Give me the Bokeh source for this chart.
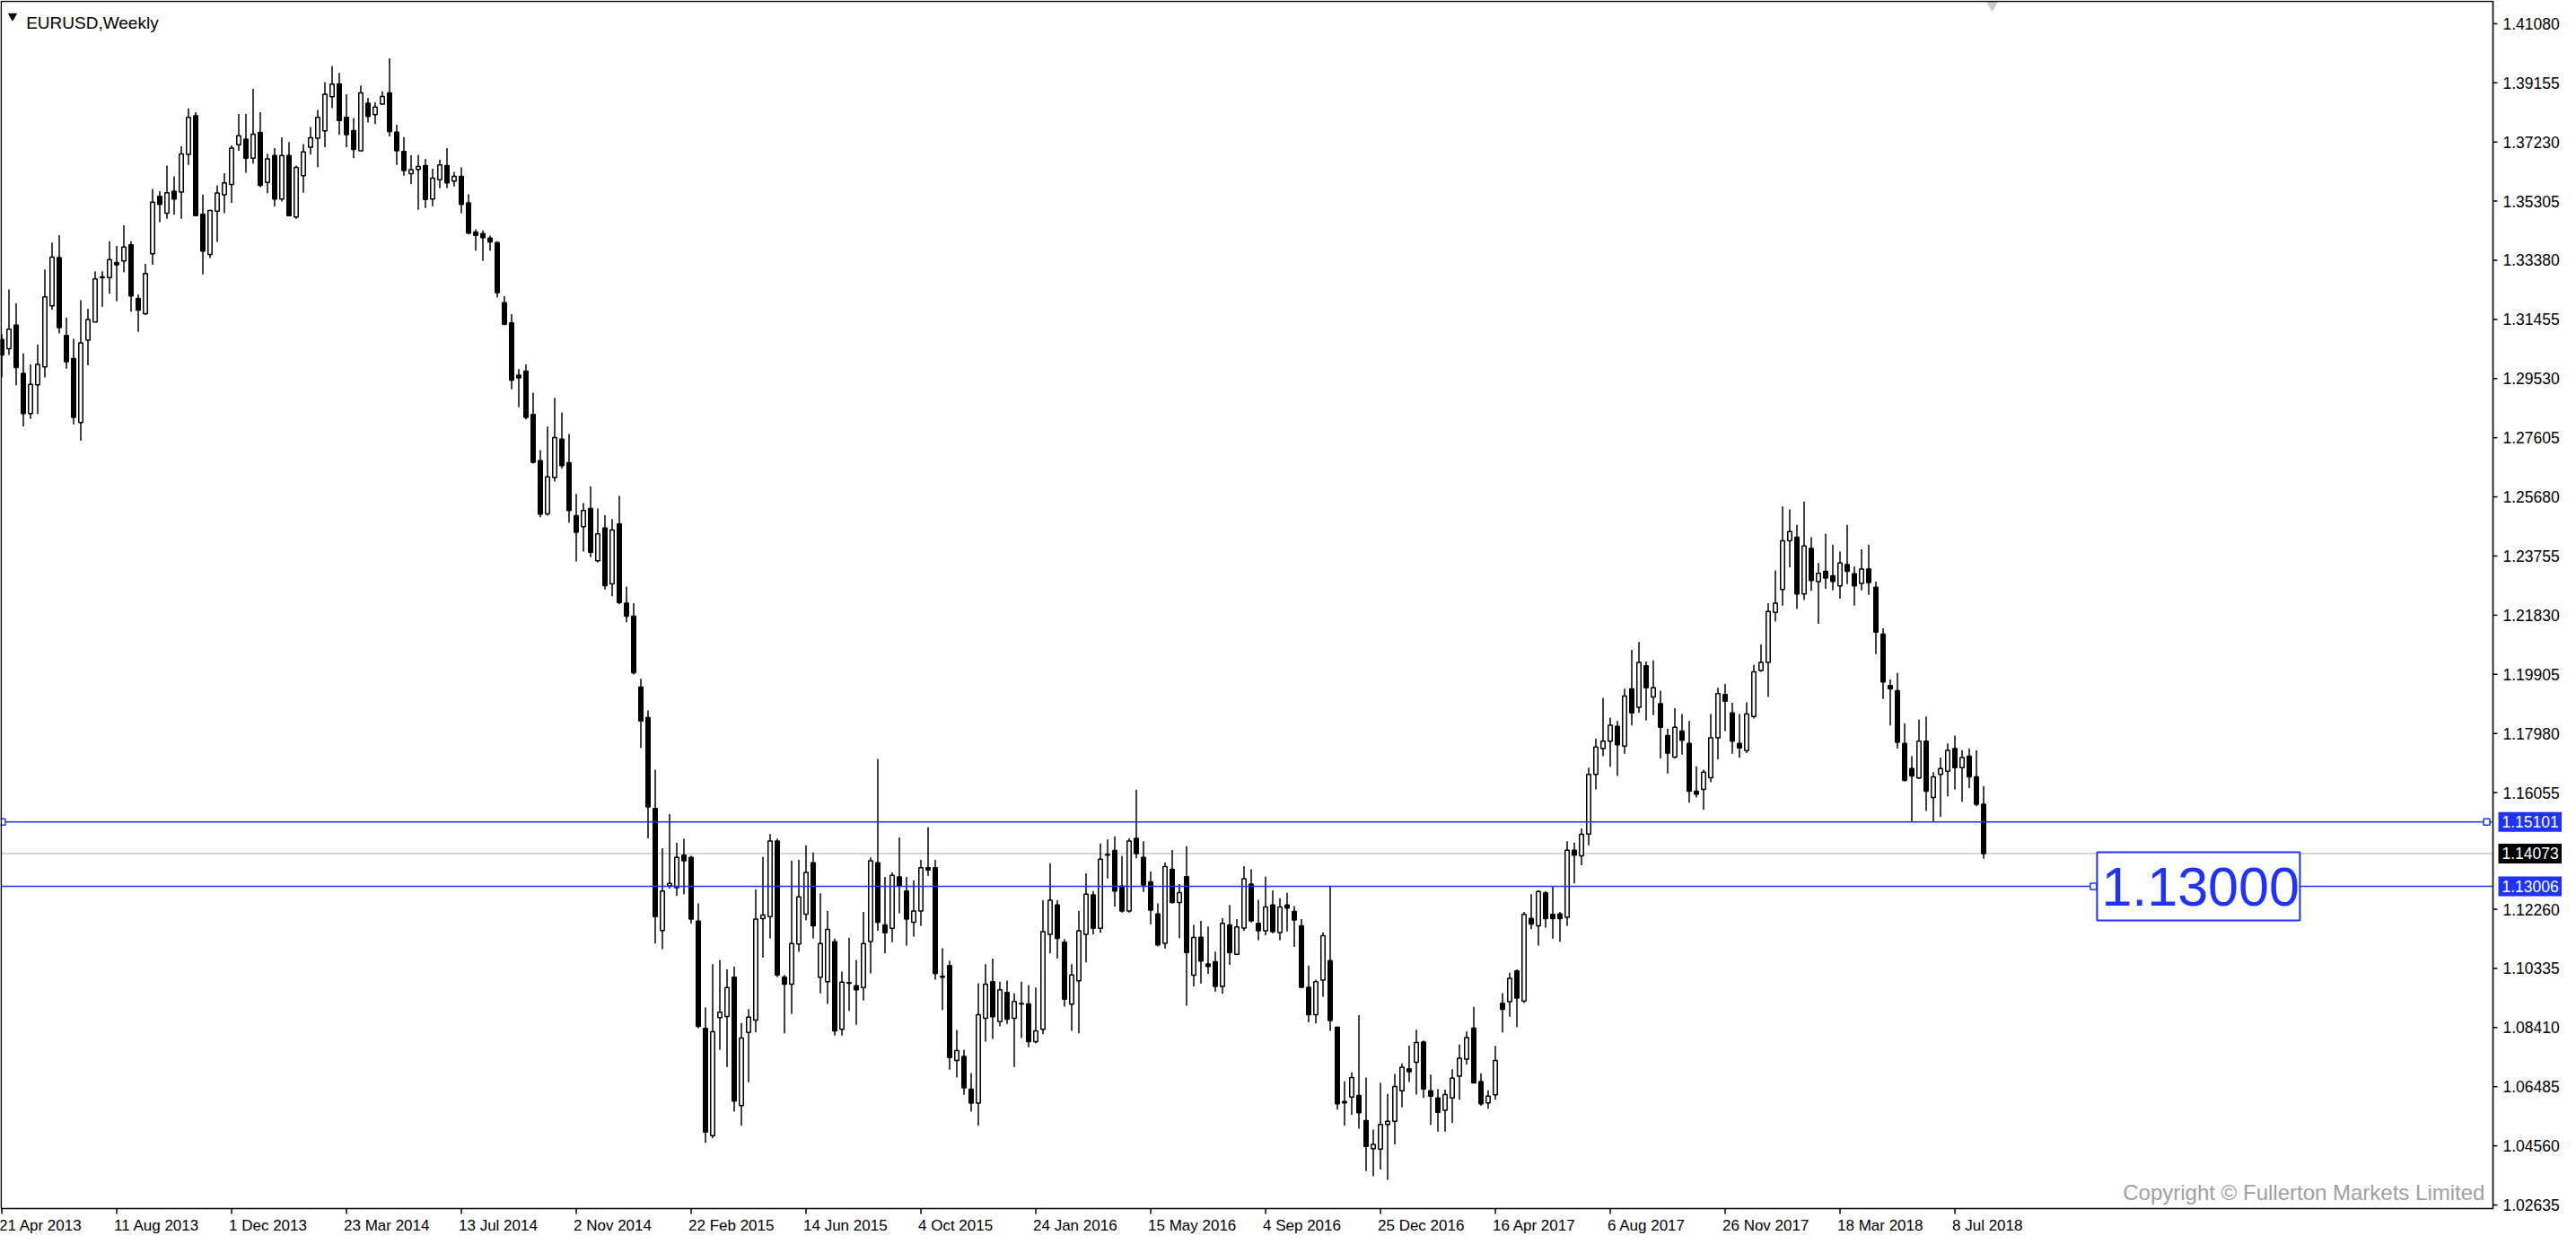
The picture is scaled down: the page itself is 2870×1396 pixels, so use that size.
import numpy as np
from bokeh.plotting import figure
from bokeh.models import ColumnDataSource, Range1d
from bokeh.core.properties import value
from bokeh.embed import file_html
from bokeh.resources import INLINE

# EURUSD weekly candles, first bar = week of 21 Apr 2013
opens = [
    1.3080, 1.3050, 1.3127, 1.2970, 1.2839, 1.2933, 1.2991, 1.3190, 1.3347, 1.3093,
    1.3018, 1.2810, 1.3078, 1.3137, 1.3282, 1.3282, 1.3331, 1.3336, 1.3388, 1.3214,
    1.3164, 1.3359, 1.3546, 1.3491, 1.3563, 1.3560, 1.3683, 1.3808, 1.3488, 1.3357,
    1.3498, 1.3551, 1.3585, 1.3714, 1.3732, 1.3670, 1.3754, 1.3591, 1.3679, 1.3537,
    1.3679, 1.3479, 1.3613, 1.3706, 1.3735, 1.3759, 1.3870, 1.3912, 1.3803, 1.3760,
    1.3694, 1.3849, 1.3812, 1.3846, 1.3883, 1.3755, 1.3692, 1.3620, 1.3634, 1.3646,
    1.3537, 1.3600, 1.3646, 1.3596, 1.3611, 1.3525, 1.3430, 1.3425, 1.3410, 1.3396,
    1.3200, 1.3134, 1.2964, 1.2977, 1.2836, 1.2686, 1.2513, 1.2631, 1.2756, 1.2679,
    1.2507, 1.2471, 1.2530, 1.2360, 1.2467, 1.2285, 1.2480, 1.2222, 1.2180, 1.1949,
    1.1850, 1.1554, 1.1157, 1.1302, 1.1296, 1.1402, 1.1395, 1.1187, 1.0838, 1.0489,
    1.0873, 1.0877, 1.1005, 1.0587, 1.0825, 1.0865, 1.1195, 1.1202, 1.1448, 1.1005,
    1.0982, 1.1113, 1.1210, 1.1377, 1.1005, 1.0990, 1.1120, 1.0835, 1.0985, 1.0977,
    1.0971, 1.1121, 1.1377, 1.1175, 1.1164, 1.1331, 1.1285, 1.1184, 1.1220, 1.1361,
    1.1361, 1.1008, 1.1043, 1.0734, 1.0747, 1.0640, 1.0595, 1.0871, 1.0990, 1.0860,
    1.0955, 1.0871, 1.0919, 1.0918, 1.0795, 1.0835, 1.1144, 1.1240, 1.1119, 1.0917,
    1.0993, 1.1144, 1.1273, 1.1164, 1.1402, 1.1417, 1.1301, 1.1220, 1.1457, 1.1395,
    1.1315, 1.1211, 1.1115, 1.1356, 1.1248, 1.1332, 1.1011, 1.1135, 1.1048, 1.1055,
    1.0975, 1.1175, 1.1079, 1.1165, 1.1308, 1.1180, 1.1156, 1.1240, 1.1150, 1.1240,
    1.1219, 1.1172, 1.0972, 1.0883, 1.0995, 1.1059, 1.0842, 1.0600, 1.0615, 1.0620,
    1.0538, 1.0447, 1.0445, 1.0526, 1.0536, 1.0635, 1.0707, 1.0728, 1.0794, 1.0635,
    1.0612, 1.0572, 1.0612, 1.0683, 1.0738, 1.0839, 1.0665, 1.0596, 1.0622, 1.0920,
    1.0925, 1.1025, 1.0927, 1.1196, 1.1172, 1.1279, 1.1209, 1.1211, 1.1200, 1.1418,
    1.1400, 1.1471, 1.1665, 1.1749, 1.1773, 1.1821, 1.1757, 1.1943, 1.1883, 1.2018,
    1.1917, 1.1895, 1.1791, 1.1721, 1.1806, 1.1766, 1.1610, 1.1616, 1.1654, 1.1784,
    1.1925, 1.1865, 1.1766, 1.1742, 1.1853, 1.2003, 1.2029, 1.2192, 1.2267, 1.2425,
    1.2437, 1.2252, 1.2400, 1.2292, 1.2326, 1.2311, 1.2278, 1.2348, 1.2318, 1.2286,
    1.2333, 1.2274, 1.2121, 1.1954, 1.1937, 1.1766, 1.1684, 1.1653, 1.1773, 1.1590,
    1.1665, 1.1675, 1.1749, 1.1687, 1.1724, 1.1657, 1.1568,
]
highs = [
    1.3098, 1.3243, 1.3198, 1.3035, 1.2999, 1.3064, 1.3308, 1.3396, 1.3420, 1.3151,
    1.3082, 1.3208, 1.3180, 1.3302, 1.3302, 1.3400, 1.3385, 1.3452, 1.3400, 1.3227,
    1.3326, 1.3570, 1.3563, 1.3646, 1.3611, 1.3709, 1.3832, 1.3820, 1.3552, 1.3502,
    1.3582, 1.3621, 1.3712, 1.3814, 1.3814, 1.3896, 1.3820, 1.3684, 1.3703, 1.3738,
    1.3723, 1.3646, 1.3716, 1.3772, 1.3827, 1.3917, 1.3970, 1.3948, 1.3878, 1.3801,
    1.3907, 1.3867, 1.3852, 1.3888, 1.3995, 1.3779, 1.3739, 1.3680, 1.3681, 1.3668,
    1.3636, 1.3665, 1.3703, 1.3626, 1.3640, 1.3553, 1.3439, 1.3435, 1.3418, 1.3400,
    1.3221, 1.3163, 1.2984, 1.2999, 1.2907, 1.2720, 1.2797, 1.2890, 1.2843, 1.2773,
    1.2578, 1.2548, 1.2602, 1.2530, 1.2508, 1.2496, 1.2571, 1.2276, 1.2222, 1.1976,
    1.1873, 1.1680, 1.1425, 1.1536, 1.1442, 1.1455, 1.1400, 1.1245, 1.0906, 1.1047,
    1.1061, 1.1030, 1.1040, 1.0856, 1.0901, 1.1290, 1.1396, 1.1471, 1.1455, 1.1012,
    1.1384, 1.1387, 1.1434, 1.1411, 1.1278, 1.1220, 1.1130, 1.1023, 1.1133, 1.1061,
    1.1217, 1.1395, 1.1715, 1.1331, 1.1346, 1.1460, 1.1331, 1.1320, 1.1387, 1.1493,
    1.1387, 1.1099, 1.1058, 1.0833, 1.0769, 1.0693, 1.0985, 1.1047, 1.1065, 1.0990,
    1.0994, 1.0952, 1.0990, 1.0979, 1.0971, 1.1255, 1.1376, 1.1255, 1.1129, 1.1047,
    1.1220, 1.1343, 1.1285, 1.1440, 1.1453, 1.1463, 1.1399, 1.1457, 1.1615, 1.1447,
    1.1349, 1.1245, 1.1378, 1.1419, 1.1308, 1.1431, 1.1175, 1.1188, 1.1170, 1.1088,
    1.1197, 1.1240, 1.1194, 1.1366, 1.1356, 1.1257, 1.1332, 1.1287, 1.1262, 1.1279,
    1.1236, 1.1194, 1.1043, 1.0997, 1.1151, 1.1303, 1.0844, 1.0666, 1.0695, 1.0881,
    1.0678, 1.0509, 1.0661, 1.0625, 1.0690, 1.0724, 1.0782, 1.0834, 1.0799, 1.0688,
    1.0641, 1.0639, 1.0705, 1.0786, 1.0828, 1.0908, 1.0692, 1.0637, 1.0781, 1.0953,
    1.1019, 1.1030, 1.1217, 1.1275, 1.1288, 1.1285, 1.1299, 1.1217, 1.1447, 1.1443,
    1.1489, 1.1687, 1.1781, 1.1914, 1.1850, 1.1839, 1.1944, 1.2070, 1.2096, 1.2032,
    1.2036, 1.1937, 1.1813, 1.1880, 1.1861, 1.1839, 1.1691, 1.1680, 1.1861, 1.1947,
    1.1959, 1.1898, 1.1861, 1.1899, 1.2021, 1.2088, 1.2222, 1.2329, 1.2537, 1.2527,
    1.2477, 1.2553, 1.2437, 1.2353, 1.2448, 1.2412, 1.2390, 1.2477, 1.2341, 1.2397,
    1.2412, 1.2292, 1.2140, 1.1974, 1.1995, 1.1831, 1.1724, 1.1843, 1.1853, 1.1672,
    1.1720, 1.1766, 1.1791, 1.1744, 1.1749, 1.1743, 1.1627,
]
lows = [
    1.2957, 1.3030, 1.2931, 1.2797, 1.2822, 1.2838, 1.2957, 1.3177, 1.3100, 1.2985,
    1.2804, 1.2751, 1.2996, 1.3137, 1.3187, 1.3229, 1.3205, 1.3299, 1.3171, 1.3105,
    1.3160, 1.3323, 1.3462, 1.3473, 1.3486, 1.3473, 1.3648, 1.3481, 1.3292, 1.3345,
    1.3398, 1.3491, 1.3525, 1.3694, 1.3623, 1.3653, 1.3576, 1.3556, 1.3513, 1.3529,
    1.3481, 1.3473, 1.3558, 1.3682, 1.3641, 1.3706, 1.3833, 1.3746, 1.3706, 1.3670,
    1.3694, 1.3786, 1.3781, 1.3844, 1.3741, 1.3648, 1.3613, 1.3586, 1.3502, 1.3508,
    1.3514, 1.3573, 1.3573, 1.3578, 1.3491, 1.3423, 1.3369, 1.3336, 1.3369, 1.3217,
    1.3127, 1.2919, 1.2860, 1.2820, 1.2676, 1.2502, 1.2507, 1.2618, 1.2660, 1.2484,
    1.2358, 1.2390, 1.2372, 1.2355, 1.2267, 1.2245, 1.2219, 1.2160, 1.1990, 1.1751,
    1.1457, 1.1114, 1.1096, 1.1293, 1.1270, 1.1275, 1.1179, 1.0838, 1.0466, 1.0481,
    1.0769, 1.0713, 1.0567, 1.0522, 1.0663, 1.0826, 1.1068, 1.1131, 1.1005, 1.0822,
    1.0886, 1.1087, 1.1190, 1.1131, 1.0952, 1.0918, 1.0815, 1.0815, 1.0895, 1.0850,
    1.0929, 1.1017, 1.1156, 1.1083, 1.1119, 1.1213, 1.1108, 1.1137, 1.1172, 1.1335,
    1.0997, 1.0898, 1.0704, 1.0678, 1.0622, 1.0567, 1.0522, 1.0795, 1.0804, 1.0845,
    1.0853, 1.0713, 1.0807, 1.0777, 1.0789, 1.0819, 1.1083, 1.1065, 1.0909, 1.0830,
    1.0822, 1.1053, 1.1144, 1.1149, 1.1326, 1.1235, 1.1215, 1.1215, 1.1392, 1.1282,
    1.1177, 1.1105, 1.1098, 1.1245, 1.1132, 1.0912, 1.0975, 1.0984, 1.1016, 1.0958,
    1.0951, 1.1045, 1.1076, 1.1156, 1.1183, 1.1125, 1.1141, 1.1148, 1.1125, 1.1154,
    1.1103, 1.0970, 1.0858, 1.0854, 1.0941, 1.0830, 1.0574, 1.0522, 1.0557, 1.0512,
    1.0374, 1.0357, 1.0379, 1.0345, 1.0461, 1.0581, 1.0664, 1.0623, 1.0612, 1.0524,
    1.0502, 1.0502, 1.0530, 1.0606, 1.0721, 1.0659, 1.0586, 1.0577, 1.0606, 1.0825,
    1.0876, 1.0842, 1.0921, 1.1161, 1.1108, 1.1166, 1.1130, 1.1120, 1.1172, 1.1310,
    1.1369, 1.1434, 1.1616, 1.1724, 1.1690, 1.1660, 1.1732, 1.1824, 1.1865, 1.1840,
    1.1858, 1.1717, 1.1668, 1.1717, 1.1729, 1.1573, 1.1590, 1.1550, 1.1639, 1.1714,
    1.1806, 1.1732, 1.1719, 1.1734, 1.1847, 1.1999, 1.1917, 1.2162, 1.2214, 1.2338,
    1.2203, 1.2232, 1.2262, 1.2155, 1.2269, 1.2264, 1.2237, 1.2284, 1.2214, 1.2264,
    1.2249, 1.2056, 1.1910, 1.1824, 1.1749, 1.1642, 1.1512, 1.1650, 1.1546, 1.1512,
    1.1527, 1.1593, 1.1616, 1.1576, 1.1620, 1.1561, 1.1390,
]
closes = [
    1.3030, 1.3114, 1.2989, 1.2839, 1.2934, 1.2999, 1.3219, 1.3348, 1.3119, 1.3008,
    1.2827, 1.3069, 1.3145, 1.3277, 1.3284, 1.3340, 1.3323, 1.3381, 1.3222, 1.3176,
    1.3295, 1.3527, 1.3520, 1.3558, 1.3537, 1.3684, 1.3803, 1.3483, 1.3368, 1.3500,
    1.3557, 1.3590, 1.3703, 1.3743, 1.3670, 1.3748, 1.3582, 1.3668, 1.3537, 1.3679,
    1.3483, 1.3640, 1.3691, 1.3737, 1.3803, 1.3878, 1.3911, 1.3793, 1.3747, 1.3699,
    1.3883, 1.3806, 1.3837, 1.3871, 1.3757, 1.3694, 1.3630, 1.3633, 1.3643, 1.3536,
    1.3605, 1.3648, 1.3590, 1.3611, 1.3520, 1.3426, 1.3419, 1.3412, 1.3398, 1.3233,
    1.3130, 1.2948, 1.2955, 1.2827, 1.2681, 1.2512, 1.2633, 1.2761, 1.2670, 1.2524,
    1.2453, 1.2524, 1.2388, 1.2448, 1.2279, 1.2460, 1.2224, 1.2180, 1.1996, 1.1839,
    1.1559, 1.1202, 1.1285, 1.1310, 1.1395, 1.1384, 1.1194, 1.0845, 1.0501, 1.0827,
    1.0891, 1.0971, 1.0602, 1.0807, 1.0875, 1.1194, 1.1207, 1.1448, 1.1012, 1.0982,
    1.1114, 1.1266, 1.1346, 1.1172, 1.1114, 1.1160, 1.0830, 1.0989, 1.0987, 1.0964,
    1.1114, 1.1384, 1.1184, 1.1149, 1.1336, 1.1301, 1.1194, 1.1220, 1.1361, 1.1354,
    1.1017, 1.1005, 1.0743, 1.0766, 1.0645, 1.0595, 1.0883, 1.0982, 1.0876, 1.0964,
    1.0868, 1.0926, 1.0918, 1.0795, 1.0830, 1.1153, 1.1255, 1.1131, 1.0933, 1.1012,
    1.1156, 1.1275, 1.1164, 1.1389, 1.1404, 1.1285, 1.1220, 1.1448, 1.1407, 1.1305,
    1.1223, 1.1110, 1.1365, 1.1248, 1.1280, 1.1085, 1.1134, 1.1057, 1.1040, 1.0975,
    1.1180, 1.1085, 1.1168, 1.1325, 1.1188, 1.1156, 1.1233, 1.1153, 1.1233, 1.1230,
    1.1191, 1.0972, 1.0883, 1.0990, 1.1140, 1.0864, 1.0593, 1.0596, 1.0678, 1.0564,
    1.0454, 1.0461, 1.0526, 1.0536, 1.0649, 1.0712, 1.0697, 1.0792, 1.0641, 1.0618,
    1.0565, 1.0623, 1.0676, 1.0741, 1.0808, 1.0661, 1.0593, 1.0618, 1.0734, 1.0900,
    1.1001, 1.0937, 1.1209, 1.1178, 1.1284, 1.1195, 1.1195, 1.1195, 1.1418, 1.1402,
    1.1470, 1.1665, 1.1754, 1.1773, 1.1825, 1.1761, 1.1920, 1.1865, 1.2029, 1.1947,
    1.1947, 1.1818, 1.1734, 1.1818, 1.1776, 1.1610, 1.1601, 1.1672, 1.1784, 1.1928,
    1.1903, 1.1773, 1.1751, 1.1861, 1.1999, 1.2029, 1.2195, 1.2222, 1.2425, 1.2455,
    1.2252, 1.2408, 1.2296, 1.2319, 1.2304, 1.2293, 1.2353, 1.2326, 1.2278, 1.2333,
    1.2289, 1.2128, 1.1966, 1.1943, 1.1769, 1.1645, 1.1660, 1.1773, 1.1610, 1.1657,
    1.1684, 1.1743, 1.1687, 1.1720, 1.1657, 1.1568, 1.1407,
]

date_tick_bars = [0, 16, 32, 48, 64, 80, 96, 112, 128, 144, 160, 176, 192, 208, 224, 240, 256, 272]
date_tick_labels = ["21 Apr 2013", "11 Aug 2013", "1 Dec 2013", "23 Mar 2014", "13 Jul 2014",
                    "2 Nov 2014", "22 Feb 2015", "14 Jun 2015", "4 Oct 2015", "24 Jan 2016",
                    "15 May 2016", "4 Sep 2016", "25 Dec 2016", "16 Apr 2017", "6 Aug 2017",
                    "26 Nov 2017", "18 Mar 2018", "8 Jul 2018"]
price_ticks = [1.41080, 1.39155, 1.37230, 1.35305, 1.33380, 1.31455, 1.29530, 1.27605,
               1.25680, 1.23755, 1.21830, 1.19905, 1.17980, 1.16055, 1.12260, 1.10335,
               1.08410, 1.06485, 1.04560, 1.02635]

level_prices = [1.15101, 1.13006]
bid_price = 1.14073
target_text = "1.13000"
target_bar = 291.8          # where the text box was dropped on the 1.13006 line

BLUE = "#1f32ff"
FONT = value("Liberation Sans")

# terminal-like scale: 8 px per weekly bar, about 3423 px per 1.0 of price
PX_X, PX_Y = 8.0, 3423.4
W, H = 2854, 1380
XS = -1.5 / PX_X
XE = XS + W / PX_X
YE = 1.41836
YS = YE - H / PX_Y


def dx(px):
    return px / PX_X


def dy(px):
    return px / PX_Y


chart_left = XS + dx(0.75)
chart_right = XS + dx(2777)
chart_top = YE - dy(1)
chart_bottom = YE - dy(1346)

o = np.array(opens)
c = np.array(closes)
idx = np.arange(len(o))
up = c >= o
src = ColumnDataSource(dict(
    x=idx, high=highs, low=lows,
    top=np.maximum(o, c), bottom=np.minimum(o, c),
    fill=np.where(up, "white", "black"),
))

p = figure(width=W, height=H, x_range=Range1d(XS, XE), y_range=Range1d(YS, YE),
           x_axis_location=None, y_axis_location=None,
           output_backend="svg", toolbar_location=None, min_border=0,
           background_fill_color="white", border_fill_color="white")
p.xgrid.grid_line_color = None
p.ygrid.grid_line_color = None
p.outline_line_color = None

# bid line under the candles
p.segment(x0=chart_left, x1=chart_right, y0=[bid_price], y1=[bid_price],
          line_color="#c8c8c8", line_width=1.6)

p.segment(x0="x", y0="low", x1="x", y1="high", source=src, line_color="black", line_width=1.5)
p.vbar(x="x", top="top", bottom="bottom", width=0.56, source=src,
       fill_color="fill", line_color="black", line_width=1.5)

# horizontal levels drawn over the candles
p.segment(x0=chart_left, x1=chart_right, y0=level_prices, y1=level_prices,
          line_color=BLUE, line_width=1.6)

# line handles
p.scatter(x=[0.06, chart_right - dx(7), target_bar - dx(4)],
          y=[level_prices[0], level_prices[0], level_prices[1]],
          marker="square", size=7, fill_color="white", line_color=BLUE, line_width=1.5)

# big text box on the lower level
p.quad(left=[target_bar], right=[target_bar + dx(226)],
       top=[level_prices[1] + dy(38)], bottom=[level_prices[1] - dy(38)],
       fill_color="white", line_color=BLUE, line_width=2)
p.text(x=[target_bar + dx(5)], y=[level_prices[1] - dy(1)], text=[target_text],
       text_font=FONT, text_font_size="61px", text_color=BLUE,
       text_align="left", text_baseline="middle")

# chart shift marker at the top
p.scatter(x=[277.2], y=[YE - dy(5)], marker="inverted_triangle", size=12,
          fill_color="#c8c8c8", line_color="#c8c8c8")

# title in the corner
p.scatter(x=[1.5], y=[1.41327], marker="inverted_triangle", size=9,
          fill_color="black", line_color="black")
p.text(x=[3.4], y=[1.41105], text=["EURUSD,Weekly"], text_font=FONT,
       text_font_size="19px", text_color="black", text_baseline="alphabetic")

p.text(x=[345.8], y=[1.03043], text=["Copyright \u00a9 Fullerton Markets Limited"],
       text_font=FONT, text_font_size="24px", text_color="#a0a0a0",
       text_align="right", text_baseline="alphabetic")

# chart frame
p.quad(left=[chart_left], right=[chart_right], top=[chart_top], bottom=[chart_bottom],
       fill_color=None, line_color="black", line_width=1.6)

# price scale on the right
p.segment(x0=chart_right, x1=chart_right + dx(5), y0=price_ticks, y1=price_ticks,
          line_color="black", line_width=1.5)
p.text(x=[chart_right + dx(11)] * len(price_ticks), y=price_ticks,
       text=["%.5f" % t for t in price_ticks], text_font=FONT, text_font_size="17.5px",
       text_color="black", text_align="left", text_baseline="middle")

# price tags for the levels and the bid
tag_prices = [level_prices[0], bid_price, level_prices[1]]
tag_colors = [BLUE, "black", BLUE]
p.quad(left=chart_right + dx(6), right=XE, top=[t + dy(11) for t in tag_prices],
       bottom=[t - dy(11) for t in tag_prices], fill_color=tag_colors, line_color=None)
p.text(x=[chart_right + dx(10)] * 3, y=tag_prices, text=["%.5f" % t for t in tag_prices],
       text_font=FONT, text_font_size="17.5px", text_color="white",
       text_align="left", text_baseline="middle")

# time scale below, labels start at their tick
p.segment(x0=date_tick_bars, x1=date_tick_bars, y0=chart_bottom, y1=chart_bottom - dy(6),
          line_color="black", line_width=1.5)
p.text(x=[b - dx(3) for b in date_tick_bars], y=[chart_bottom - dy(9)] * len(date_tick_bars),
       text=date_tick_labels, text_font=FONT, text_font_size="17px", text_color="black",
       text_align="left", text_baseline="top")

open("out.html", "w").write(file_html(p, INLINE))
